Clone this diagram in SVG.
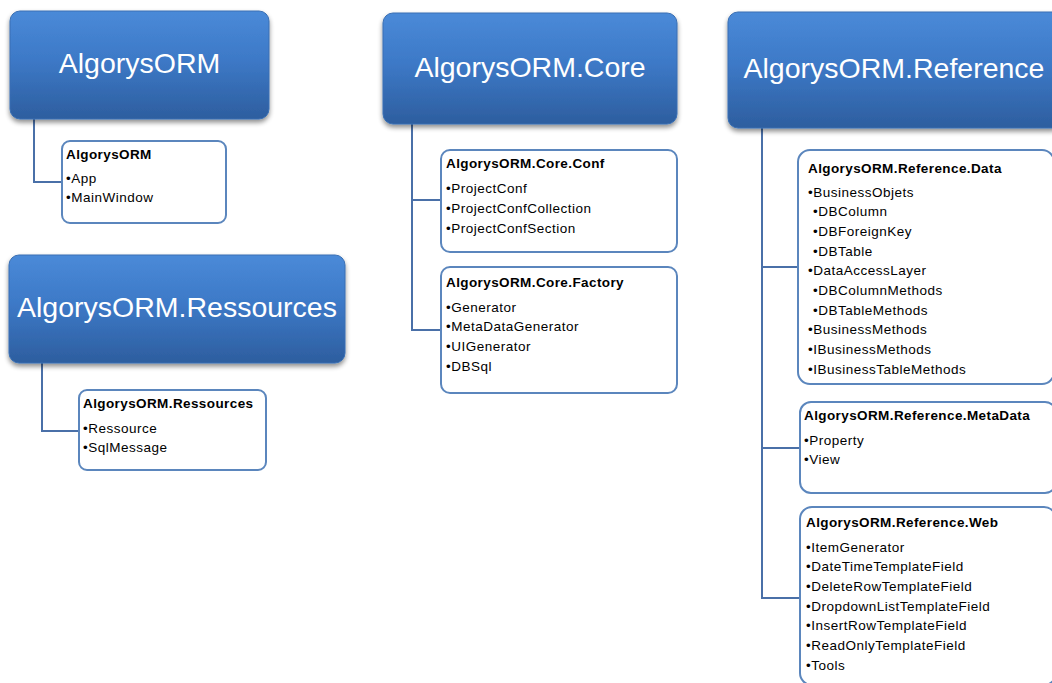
<svg xmlns="http://www.w3.org/2000/svg" width="1052" height="683" viewBox="0 0 1052 683">
<defs>
<linearGradient id="hg" x1="0" y1="0" x2="0" y2="1">
<stop offset="0" stop-color="#4a8ad8"/>
<stop offset="0.45" stop-color="#3d79c7"/>
<stop offset="1" stop-color="#2d5e9f"/>
</linearGradient>
<filter id="sh" x="-10%" y="-10%" width="120%" height="130%">
<feGaussianBlur in="SourceAlpha" stdDeviation="2.5"/>
<feOffset dx="0" dy="3" result="b"/>
<feComponentTransfer><feFuncA type="linear" slope="0.45"/></feComponentTransfer>
<feMerge><feMergeNode/><feMergeNode in="SourceGraphic"/></feMerge>
</filter>
</defs>
<style>
.hdr{fill:url(#hg);stroke:#3a6fb3;stroke-width:1;filter:url(#sh)}
.ht{font-family:"Liberation Sans",Arial,sans-serif;font-size:28.5px;fill:#ffffff;text-anchor:middle}
.box{fill:#ffffff;stroke:#5b86bd;stroke-width:2}
.tt{font-family:"Liberation Sans",Arial,sans-serif;font-size:13.5px;font-weight:bold;fill:#000;letter-spacing:0.4px}
.it{font-family:"Liberation Sans",Arial,sans-serif;font-size:13.5px;fill:#000;letter-spacing:0.5px}
.con{fill:none;stroke:#4a70a8;stroke-width:2}
</style>
<g id="connectors">
<path class="con" d="M34 119 V182 H62"/>
<path class="con" d="M42 363 V431 H79"/>
<path class="con" d="M412 124 V330 H441 M412 200 H441"/>
<path class="con" d="M762 128 V598 H800 M762 267 H798 M762 448 H800"/>
</g>
<g id="n-algorysorm">
<rect class="hdr" x="10" y="11" width="259" height="108" rx="10"/>
<text class="ht" x="139.5" y="73">AlgorysORM</text>
</g>
<g id="n-algorysorm-box">
<rect class="box" x="62" y="141" width="164" height="82" rx="8"/>
<text class="tt" x="66" y="159">AlgorysORM</text>
<text class="it" x="66" y="183">•App</text>
<text class="it" x="66" y="202">•MainWindow</text>
</g>
<g id="n-ressources">
<rect class="hdr" x="9" y="255" width="336" height="108" rx="10"/>
<text class="ht" x="177" y="317">AlgorysORM.Ressources</text>
</g>
<g id="n-ressources-box">
<rect class="box" x="79" y="390" width="187" height="80" rx="8"/>
<text class="tt" x="83" y="408">AlgorysORM.Ressources</text>
<text class="it" x="83" y="433">•Ressource</text>
<text class="it" x="83" y="452">•SqlMessage</text>
</g>
<g id="n-core">
<rect class="hdr" x="383" y="13" width="294" height="111" rx="10"/>
<text class="ht" x="530" y="77">AlgorysORM.Core</text>
</g>
<g id="n-core-conf">
<rect class="box" x="441" y="150" width="236" height="102" rx="9"/>
<text class="tt" x="446" y="168">AlgorysORM.Core.Conf</text>
<text class="it" x="446" y="193">•ProjectConf</text>
<text class="it" x="446" y="213">•ProjectConfCollection</text>
<text class="it" x="446" y="233">•ProjectConfSection</text>
</g>
<g id="n-core-factory">
<rect class="box" x="441" y="267" width="236" height="126" rx="9"/>
<text class="tt" x="446" y="287">AlgorysORM.Core.Factory</text>
<text class="it" x="446" y="312">•Generator</text>
<text class="it" x="446" y="331">•MetaDataGenerator</text>
<text class="it" x="446" y="351">•UIGenerator</text>
<text class="it" x="446" y="371">•DBSql</text>
</g>
<g id="n-reference">
<rect class="hdr" x="728" y="12" width="334" height="116" rx="10"/>
<text class="ht" x="894" y="78">AlgorysORM.Reference</text>
</g>
<g id="n-ref-data">
<rect class="box" x="798" y="150" width="256" height="234" rx="12"/>
<text class="tt" x="808" y="173">AlgorysORM.Reference.Data</text>
<text class="it" x="808" y="197">•BusinessObjets</text>
<text class="it" x="813" y="216">•DBColumn</text>
<text class="it" x="813" y="236">•DBForeignKey</text>
<text class="it" x="813" y="256">•DBTable</text>
<text class="it" x="808" y="275">•DataAccessLayer</text>
<text class="it" x="813" y="295">•DBColumnMethods</text>
<text class="it" x="813" y="315">•DBTableMethods</text>
<text class="it" x="808" y="334">•BusinessMethods</text>
<text class="it" x="808" y="354">•IBusinessMethods</text>
<text class="it" x="808" y="374">•IBusinessTableMethods</text>
</g>
<g id="n-ref-metadata">
<rect class="box" x="800" y="402" width="256" height="91" rx="11"/>
<text class="tt" x="804" y="420">AlgorysORM.Reference.MetaData</text>
<text class="it" x="804" y="445">•Property</text>
<text class="it" x="804" y="464">•View</text>
</g>
<g id="n-ref-web">
<rect class="box" x="800" y="507" width="256" height="178" rx="12"/>
<text class="tt" x="806" y="527">AlgorysORM.Reference.Web</text>
<text class="it" x="806" y="552">•ItemGenerator</text>
<text class="it" x="806" y="571">•DateTimeTemplateField</text>
<text class="it" x="806" y="591">•DeleteRowTemplateField</text>
<text class="it" x="806" y="611">•DropdownListTemplateField</text>
<text class="it" x="806" y="630">•InsertRowTemplateField</text>
<text class="it" x="806" y="650">•ReadOnlyTemplateField</text>
<text class="it" x="806" y="670">•Tools</text>
</g>
</svg>
